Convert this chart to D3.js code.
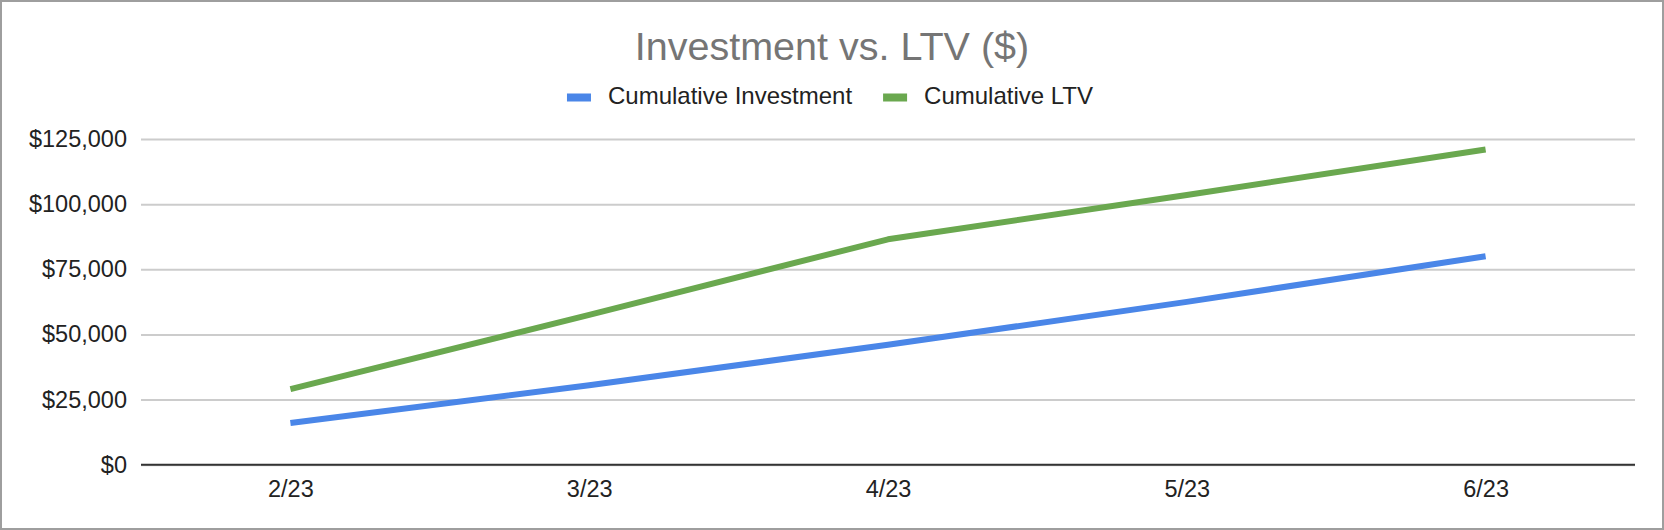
<!DOCTYPE html>
<html>
<head>
<meta charset="utf-8">
<script src="https://cdn.jsdelivr.net/npm/d3@7"></script>
<style>
  html, body { margin: 0; padding: 0; background: #fff; }
  svg { display: block; font-family: "Liberation Sans", Arial, sans-serif; }
</style>
</head>
<body>
<div id="chart"></div>
<script>
// chart data
var months = ["2/23", "3/23", "4/23", "5/23", "6/23"];
var investment = [16000, 30500, 46000, 62500, 80000];
var ltv = [29000, 57500, 86500, 103500, 121000];
var yTicks = [0, 25000, 50000, 75000, 100000, 125000];
var seriesNames = ["Cumulative Investment", "Cumulative LTV"];
var seriesColors = ["#4a86e8", "#6aa84f"];

function make_chart() {
    var W = 1664, H = 530;
    var svg = d3.select("#chart").append("svg")
        .attr("width", W)
        .attr("height", H);

    // outer frame
    svg.append("rect")
        .attr("x", 1).attr("y", 1)
        .attr("width", W - 2).attr("height", H - 2)
        .attr("fill", "#fff")
        .attr("stroke", "#9e9e9e")
        .attr("stroke-width", 2);

    var left = 141, right = 1635, top = 139, bottom = 464.7;

    var xScale = d3.scalePoint(months, [left, right]).padding(0.5);
    var yScale = d3.scaleLinear([0, 125000], [bottom, top]);

    // title
    svg.append("text")
        .text("Investment vs. LTV ($)")
        .attr("x", W / 2)
        .attr("y", 60)
        .attr("text-anchor", "middle")
        .attr("font-size", 39.5)
        .attr("fill", "#757575");

    // gridlines + y labels
    var yAxis = d3.axisLeft(yScale)
        .tickValues(yTicks)
        .tickSize(-(right - left))
        .tickPadding(14)
        .tickFormat(function(d) { return "$" + d3.format(",")(d); });

    var gy = svg.append("g")
        .attr("transform", "translate(" + left + ",0)")
        .call(yAxis);
    gy.select(".domain").remove();
    gy.selectAll(".tick line")
        .attr("stroke", "#cccccc")
        .attr("stroke-width", 2);
    gy.selectAll(".tick text")
        .attr("font-size", 23.5)
        .attr("fill", "#222")
        .attr("font-family", "Liberation Sans, Arial, sans-serif");

    // x labels
    var xAxis = d3.axisBottom(xScale).tickSize(0).tickPadding(16);
    var gx = svg.append("g")
        .attr("transform", "translate(0," + bottom + ")")
        .call(xAxis);
    gx.select(".domain").remove();
    gx.selectAll(".tick text")
        .attr("font-size", 23.5)
        .attr("fill", "#222")
        .attr("font-family", "Liberation Sans, Arial, sans-serif");

    // baseline
    svg.append("line")
        .attr("x1", left).attr("x2", right)
        .attr("y1", yScale(0)).attr("y2", yScale(0))
        .attr("stroke", "#333")
        .attr("stroke-width", 2);

    var line = d3.line()
        .x(function(d, i) { return xScale(months[i]); })
        .y(function(d) { return yScale(d); });

    [investment, ltv].forEach(function(series, k) {
        svg.append("path")
            .datum(series)
            .attr("d", line)
            .attr("fill", "none")
            .attr("stroke", seriesColors[k])
            .attr("stroke-width", 6)
            .attr("stroke-linejoin", "round");
    });

    // legend, centred under the title
    var legend = svg.append("g");
    var xpos = 0;
    seriesNames.forEach(function(name, k) {
        legend.append("rect")
            .attr("x", xpos).attr("y", 93.5)
            .attr("width", 24).attr("height", 8)
            .attr("fill", seriesColors[k]);
        var t = legend.append("text")
            .text(name)
            .attr("x", xpos + 41)
            .attr("y", 104)
            .attr("font-size", 24)
            .attr("fill", "#222");
        xpos += 41 + t.node().getComputedTextLength() + 31;
    });
    var lw = xpos - 31;
    legend.attr("transform", "translate(" + (W / 2 - lw / 2 - 2) + ",0)");
}

make_chart();
</script>
</body>
</html>
